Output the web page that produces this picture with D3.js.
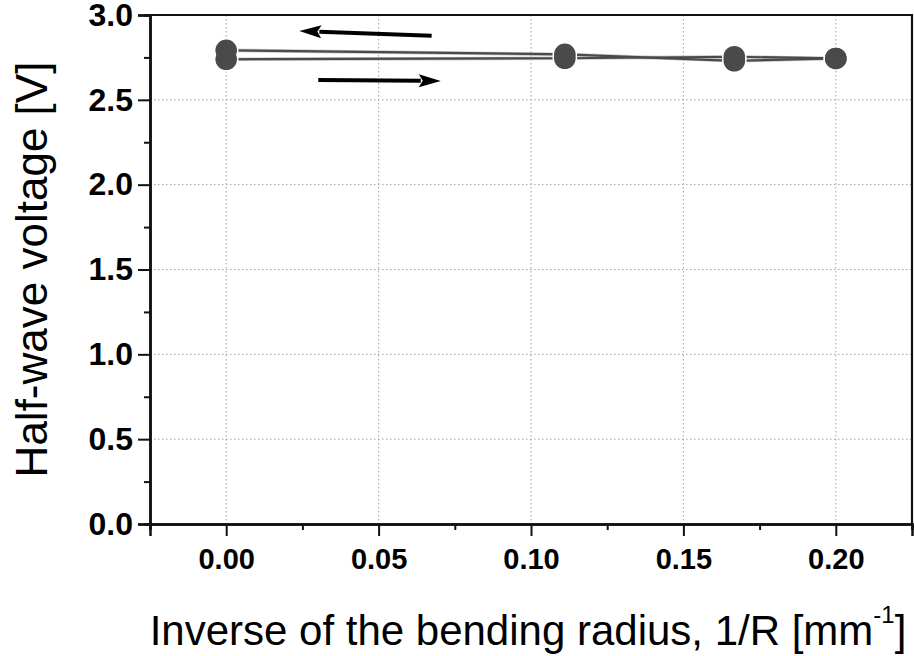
<!DOCTYPE html>
<html>
<head>
<meta charset="utf-8">
<script src="https://cdn.jsdelivr.net/npm/d3@7"></script>
<style>
  body { margin: 0; background: #fff; }
  svg { display: block; }
</style>
</head>
<body>
<svg id="chart" width="914" height="656"></svg>
<script>
// bending curvature 1/R (mm^-1) for R = inf, 9, 6, 5 mm
let fwdX = [0, 0.1111, 0.1667, 0.2];
let fwdV = [2.739, 2.745, 2.754, 2.744];
let retX = [0.2, 0.1667, 0.1111, 0];
let retV = [2.744, 2.730, 2.768, 2.792];

let xMajor = [0, 0.05, 0.10, 0.15, 0.20];
let xMinor = [-0.025, 0.025, 0.075, 0.125, 0.175, 0.225];
let yMajor = [0, 0.5, 1.0, 1.5, 2.0, 2.5, 3.0];
let yMinor = [0.25, 0.75, 1.25, 1.75, 2.25, 2.75];

// direction arrows [x0, v0, x1, v1] (tip at x1, v1)
let arrowBack = [0.0674, 2.878, 0.024, 2.906];
let arrowFwd = [0.0302, 2.617, 0.0704, 2.611];

function drawChart(holder){
  let margin = {"left": 150, "top": 15, "right": 2, "bottom": 132};
  let width = 914, height = 656;
  let svg = d3.select(holder);
  let font = "'Liberation Sans', Arial, sans-serif";

  let x = d3.scaleLinear()
    .domain([-0.025, 0.225])
    .range([margin.left, width - margin.right]);
  let y = d3.scaleLinear()
    .domain([0, 3])
    .range([height - margin.bottom, margin.top]);

  let x0 = x.range()[0], x1 = x.range()[1];
  let y0 = y.range()[0], y1 = y.range()[1];

  // dotted grid
  let grid = svg.append("g").attr("class", "grid")
    .attr("stroke", "#a0a0a0").attr("stroke-width", 1)
    .attr("stroke-dasharray", "1.5,2.5");
  grid.selectAll("line.gx")
    .data(xMajor)
    .join("line").attr("class", "gx")
    .attr("x1", d => x(d)).attr("x2", d => x(d))
    .attr("y1", y1).attr("y2", y0);
  grid.selectAll("line.gy")
    .data(yMajor.filter(d => d > 0 && d < 3))
    .join("line").attr("class", "gy")
    .attr("x1", x0).attr("x2", x1)
    .attr("y1", d => y(d)).attr("y2", d => y(d));

  // frame top/right
  svg.append("path")
    .attr("d", `M${x0},${y1}H${x1}V${y0}`)
    .attr("fill", "none").attr("stroke", "#111").attr("stroke-width", 2.2);

  // axes
  let axisX = svg.append("g").attr("class", "ax").attr("transform", `translate(0,${y0})`);
  axisX.call(d3.axisBottom(x).tickValues(xMajor).tickSize(12).tickPadding(12)
    .tickFormat(d3.format(".2f")));
  axisX.selectAll(".tick text").style("font-size", "29px");
  let axisXm = svg.append("g").attr("transform", `translate(0,${y0})`);
  axisXm.call(d3.axisBottom(x).tickValues(xMinor).tickSize(6).tickFormat(""));

  let axisY = svg.append("g").attr("class", "ax").attr("transform", `translate(${x0},0)`);
  axisY.call(d3.axisLeft(y).tickValues(yMajor).tickSize(12).tickPadding(5)
    .tickFormat(d3.format(".1f")));
  axisY.selectAll(".tick text").style("font-size", "32px");
  let axisYm = svg.append("g").attr("transform", `translate(${x0},0)`);
  axisYm.call(d3.axisLeft(y).tickValues(yMinor).tickSize(6).tickFormat(""));

  svg.selectAll(".domain").attr("stroke", "#111").attr("stroke-width", 2.5);
  svg.selectAll(".tick line").attr("stroke", "#111").attr("stroke-width", 2);
  svg.selectAll(".tick text")
    .attr("fill", "#000")
    .style("font-family", font)
    .style("font-weight", "bold");

  // series lines
  let line = d3.line().x(d => x(d[0])).y(d => y(d[1]));
  let series = [d3.zip(fwdX, fwdV), d3.zip(retX, retV)];
  let lines = svg.append("g").attr("class", "lines");
  lines.selectAll("path.halo")
    .data(series)
    .join("path").attr("class", "halo")
    .attr("d", line).attr("fill", "none")
    .attr("stroke", "#c8c8c8").attr("stroke-width", 3.6);
  lines.selectAll("path.core")
    .data(series)
    .join("path").attr("class", "core")
    .attr("d", line).attr("fill", "none")
    .attr("stroke", "#4a4a4a").attr("stroke-width", 2.2);

  // dots: white outline underneath, fills on top so overlapping pairs merge
  let pts = series.flat();
  let dots = svg.append("g").attr("class", "dots");
  dots.selectAll("circle.rim")
    .data(pts)
    .join("circle").attr("class", "rim")
    .attr("cx", d => x(d[0])).attr("cy", d => y(d[1]))
    .attr("r", 12.3)
    .attr("fill", "#fff");
  dots.selectAll("circle.fill")
    .data(pts)
    .join("circle").attr("class", "fill")
    .attr("cx", d => x(d[0])).attr("cy", d => y(d[1]))
    .attr("r", 10.8)
    .attr("fill", "#4a4a4a");

  // arrows
  let arrows = svg.append("g").attr("class", "arrows");
  [arrowBack, arrowFwd].forEach(function(a){
    let sx = x(a[0]), sy = y(a[1]), tx = x(a[2]), ty = y(a[3]);
    let len = Math.hypot(tx - sx, ty - sy);
    let ux = (tx - sx) / len, uy = (ty - sy) / len;
    let hl = 22, hw = 6.5;
    let bx = tx - ux * hl, by = ty - uy * hl;
    arrows.append("line")
      .attr("x1", sx).attr("y1", sy).attr("x2", bx + ux * 2).attr("y2", by + uy * 2)
      .attr("stroke", "#000").attr("stroke-width", 4);
    arrows.append("path")
      .attr("d", `M${tx},${ty}L${bx - uy * hw},${by + ux * hw}L${bx + ux * 4},${by + uy * 4}L${bx + uy * hw},${by - ux * hw}Z`)
      .attr("fill", "#000");
  });

  // axis titles
  let xt = svg.append("text")
    .attr("x", (x0 + x1) / 2 - 3)
    .attr("y", 645)
    .attr("text-anchor", "middle")
    .style("font-family", font)
    .style("font-size", "42px")
    .attr("fill", "#000");
  xt.append("tspan").text("Inverse of the bending radius, 1/R [mm");
  xt.append("tspan").attr("dy", -22).style("font-size", "24px").text("-1");
  xt.append("tspan").attr("dy", 22).text("]");

  svg.append("text")
    .attr("transform", `translate(47,${(y0 + y1) / 2})rotate(-90)`)
    .attr("text-anchor", "middle")
    .style("font-family", font)
    .style("font-size", "44px")
    .attr("fill", "#000")
    .text("Half-wave voltage [V]");
}

drawChart("#chart");
</script>
</body>
</html>
